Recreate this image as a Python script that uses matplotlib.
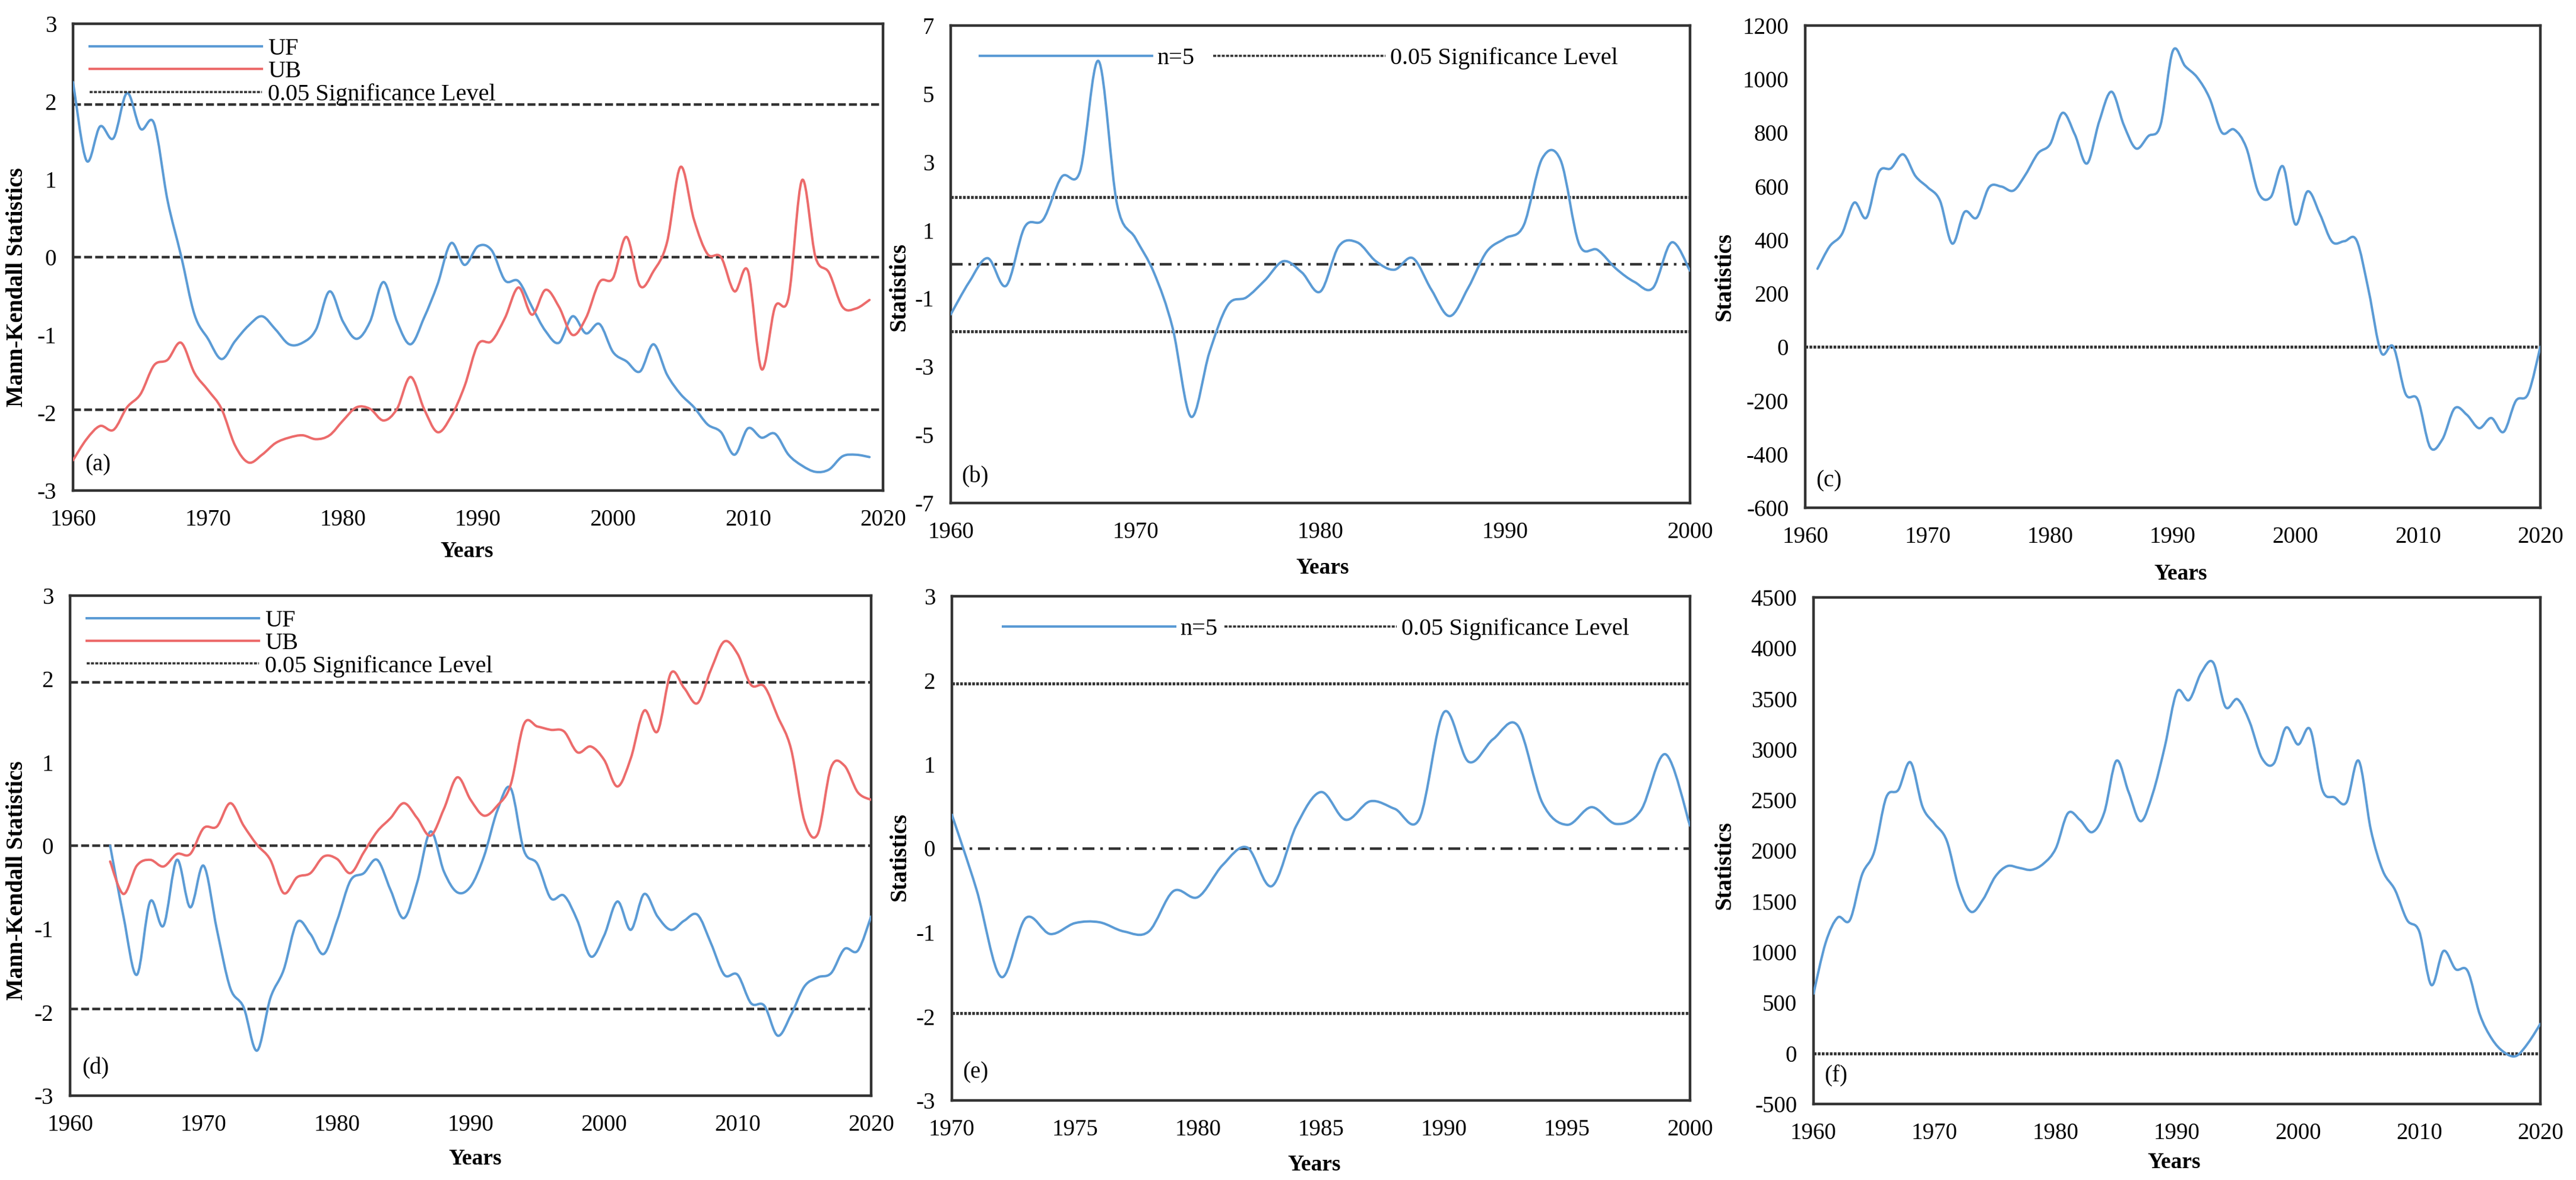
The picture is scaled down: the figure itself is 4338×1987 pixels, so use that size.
import numpy as np
import matplotlib

matplotlib.use("Agg")
import matplotlib.pyplot as plt
from matplotlib.path import Path
from matplotlib.patches import PathPatch
from matplotlib.lines import Line2D

plt.rcParams["font.family"] = ["Liberation Serif", "DejaVu Serif"]
plt.rcParams["axes.unicode_minus"] = False

# ---- data ----
years_a = list(range(1960, 2020))
uf_a = [2.25, 1.24, 1.68, 1.53, 2.11, 1.65, 1.72, 0.73, 0.02, -0.74,
        -1.05, -1.31, -1.08, -0.88, -0.76, -0.93, -1.12, -1.10, -0.93, -0.44,
        -0.83, -1.05, -0.83, -0.32, -0.83, -1.12, -0.78, -0.35, 0.18, -0.10,
        0.14, 0.09, -0.30, -0.31, -0.64, -0.95, -1.10, -0.76, -0.98, -0.86,
        -1.22, -1.34, -1.47, -1.12, -1.51, -1.76, -1.93, -2.15, -2.25, -2.54,
        -2.20, -2.32, -2.27, -2.54, -2.68, -2.76, -2.73, -2.56, -2.54, -2.57]
ub_a = [-2.61, -2.34, -2.17, -2.22, -1.93, -1.76, -1.39, -1.32, -1.10, -1.49,
        -1.71, -1.95, -2.42, -2.64, -2.54, -2.39, -2.32, -2.29, -2.34, -2.29,
        -2.10, -1.93, -1.95, -2.10, -1.95, -1.54, -1.95, -2.25, -2.05, -1.66,
        -1.12, -1.08, -0.78, -0.39, -0.74, -0.42, -0.64, -1.00, -0.78, -0.32,
        -0.27, 0.26, -0.37, -0.18, 0.19, 1.16, 0.48, 0.04, 0.00, -0.44,
        -0.18, -1.44, -0.64, -0.52, 0.99, 0.00, -0.20, -0.64, -0.66, -0.55]

years_b = list(range(1960, 2001))
stat_b = [-1.47, -0.52, 0.18, -0.63, 1.09, 1.31, 2.56, 2.73, 5.96, 1.76,
          0.76, -0.25, -1.85, -4.47, -2.58, -1.19, -0.97, -0.47, 0.09, -0.24,
          -0.80, 0.53, 0.64, 0.09, -0.16, 0.18, -0.74, -1.52, -0.69, 0.37,
          0.76, 1.14, 3.10, 3.05, 0.59, 0.42, -0.13, -0.52, -0.69, 0.64,
          -0.19]

years_c = list(range(1961, 2021))
stat_c = [292, 376, 422, 539, 483, 652, 667, 719, 638,
          596, 546, 386, 504, 483, 596, 599, 584, 645, 723,
          758, 874, 794, 685, 843, 953, 829, 741, 787, 829,
          1105, 1049, 1006, 929, 801, 812, 744, 575, 560, 674,
          458, 581, 497, 393, 395, 398, 207, -20, 1, -175,
          -197, -374, -345, -229, -253, -303, -265, -317, -201, -175,
          1]

years_d = list(range(1963, 2021))
uf_d = [0.00, -0.85, -1.55, -0.67, -0.96, -0.17, -0.74,
        -0.24, -1.01, -1.71, -1.94, -2.46, -1.83, -1.49, -0.92, -1.06, -1.30,
        -0.90, -0.42, -0.33, -0.17, -0.53, -0.87, -0.44, 0.17, -0.31, -0.56,
        -0.49, -0.13, 0.42, 0.69, -0.06, -0.22, -0.63, -0.60, -0.90, -1.33,
        -1.08, -0.67, -1.01, -0.58, -0.85, -1.01, -0.90, -0.83, -1.17, -1.55,
        -1.55, -1.89, -1.92, -2.28, -2.03, -1.69, -1.58, -1.53, -1.24, -1.26,
        -0.85]
ub_d = [-0.19, -0.58, -0.24, -0.17, -0.25, -0.10, -0.10,
        0.21, 0.23, 0.51, 0.24, 0.01, -0.17, -0.57, -0.38, -0.33, -0.13,
        -0.16, -0.33, -0.08, 0.17, 0.33, 0.51, 0.33, 0.12, 0.44, 0.82,
        0.55, 0.36, 0.48, 0.73, 1.46, 1.43, 1.39, 1.37, 1.12, 1.19,
        1.03, 0.71, 1.05, 1.62, 1.37, 2.07, 1.89, 1.71, 2.11, 2.45,
        2.30, 1.93, 1.91, 1.55, 1.16, 0.30, 0.14, 0.94, 0.96, 0.64,
        0.55]

years_e = list(range(1970, 2001))
stat_e = [0.40, -0.49, -1.53, -0.83, -1.02, -0.89, -0.88, -0.99, -0.99, -0.51,
          -0.58, -0.20, 0.01, -0.45, 0.27, 0.67, 0.34, 0.56, 0.47, 0.35,
          1.62, 1.03, 1.30, 1.46, 0.54, 0.28, 0.49, 0.29, 0.45, 1.12,
          0.27]

years_f = list(range(1960, 2021))
stat_f = [589, 1092, 1341, 1315, 1762, 1986, 2526, 2601, 2873, 2433,
          2265, 2098, 1632, 1397, 1520, 1744, 1848, 1830, 1811, 1874,
          2023, 2370, 2303, 2183, 2377, 2888, 2582, 2291, 2563, 3029,
          3569, 3487, 3756, 3856, 3420, 3495, 3271, 2917, 2861, 3215,
          3048, 3197, 2601, 2526, 2478, 2888, 2210, 1800, 1613, 1315,
          1203, 674, 1010, 831, 812, 384, 142, 11, -26, 104,
          291]

sig_level = 1.96

BLUE = "#5B9BD5"
RED = "#EC6B6B"
GREY = "#333333"
FS = 28


def smooth_line(ax, x, y, color, lw=2.9):
    # Excel-style smoothed line: cubic Bezier through every point
    x = np.asarray(x, float)
    y = np.asarray(y, float)
    xp = np.concatenate([[x[0]], x, [x[-1]]])
    yp = np.concatenate([[y[0]], y, [y[-1]]])
    verts = [(x[0], y[0])]
    codes = [Path.MOVETO]
    for i in range(len(x) - 1):
        c1 = (x[i] + (xp[i + 2] - xp[i]) / 6, y[i] + (yp[i + 2] - yp[i]) / 6)
        c2 = (x[i + 1] - (xp[i + 3] - xp[i + 1]) / 6,
              y[i + 1] - (yp[i + 3] - yp[i + 1]) / 6)
        verts += [c1, c2, (x[i + 1], y[i + 1])]
        codes += [Path.CURVE4] * 3
    ax.add_patch(PathPatch(Path(verts, codes), fill=False, edgecolor=color,
                           lw=lw, capstyle="round", joinstyle="round", zorder=3))


W, H = 4338, 1987
fig = plt.figure(figsize=(W / 100, H / 100), dpi=100)


def make_axes(l, r, t, b):
    ax = fig.add_axes([l / W, 1 - b / H, (r - l) / W, (b - t) / H])
    for s in ax.spines.values():
        s.set_color(GREY)
        s.set_linewidth(3.2)
    ax.tick_params(length=0, labelsize=FS)
    ax.tick_params(axis="x", pad=22)
    ax.tick_params(axis="y", pad=20)
    return ax


def finish(ax, xlim, xticks, ylim, yticks, ylabel, ylab_xy, xlab_xy, tag):
    ax.set_xlim(*xlim)
    ax.set_xticks(xticks)
    ax.set_ylim(*ylim)
    ax.set_yticks(yticks)
    ax.set_ylabel(ylabel, fontsize=FS, fontweight="bold")
    ax.yaxis.set_label_coords(*ylab_xy)
    ax.set_xlabel("Years", fontsize=27, fontweight="bold")
    ax.xaxis.set_label_coords(*xlab_xy)
    ax.text(0.015, 0.055, tag, transform=ax.transAxes, fontsize=FS,
            va="center", ha="left")


dashed = dict(color=GREY, lw=3.2, ls=(0, (3.0, 1.2)), zorder=2)
dotted = dict(color=GREY, lw=3.6, ls=(0, (0.9, 0.45)), zorder=2)
dashdot = dict(color=GREY, lw=3.2, ls=(0, (4.5, 2.2, 1.0, 2.2)), zorder=2)
leg_sig = Line2D([], [], color=GREY, lw=2.6, ls=(0, (1.4, 0.6)))

# ---- (a) ----
ax = make_axes(123, 1487, 40, 826)
for v in (sig_level, 0, -sig_level):
    ax.axhline(v, **dashed)
smooth_line(ax, years_a, uf_a, BLUE)
smooth_line(ax, years_a, ub_a, RED)
finish(ax, (1960, 2020), range(1960, 2021, 10), (-3, 3), range(-3, 4),
       "Mann-Kendall Statistics", (-0.056, 0.436), (0.486, -0.108), "(a)")
ax.legend([Line2D([], [], color=BLUE, lw=2.9), Line2D([], [], color=RED, lw=2.9), leg_sig],
          ["UF", "UB", "0.05 Significance Level"], loc="upper left",
          bbox_to_anchor=(0.0, 1.005), frameon=False, fontsize=29,
          handlelength=7.2, handletextpad=0.25, labelspacing=0.02, borderaxespad=0.3)

# ---- (b) ----
ax = make_axes(1601, 2846, 43, 847)
ax.axhline(sig_level, **dotted)
ax.axhline(-sig_level, **dotted)
ax.axhline(0, **dashdot)
smooth_line(ax, years_b, stat_b, BLUE)
finish(ax, (1960, 2000), range(1960, 2001, 10), (-7, 7), range(-7, 8, 2),
       "Statistics", (-0.055, 0.453), (0.503, -0.114), "(b)")
ax.legend([Line2D([], [], color=BLUE, lw=2.9), leg_sig],
          ["n=5", "0.05 Significance Level"], loc="upper left", ncol=2,
          bbox_to_anchor=(0.01, 1.0), frameon=False, fontsize=29,
          handlelength=7.2, handletextpad=0.2, columnspacing=0.8, borderaxespad=0.5)

# ---- (c) ----
ax = make_axes(3040, 4278, 43, 855)
ax.axhline(0, **dotted)
smooth_line(ax, years_c, stat_c, BLUE)
finish(ax, (1960, 2020), range(1960, 2021, 10), (-600, 1200), range(-600, 1201, 200),
       "Statistics", (-0.095, 0.48), (0.511, -0.116), "(c)")

# ---- (d) ----
ax = make_axes(118, 1467, 1003, 1845)
for v in (sig_level, 0, -sig_level):
    ax.axhline(v, **dashed)
smooth_line(ax, years_d, uf_d, BLUE)
smooth_line(ax, years_d, ub_d, RED)
finish(ax, (1960, 2020), range(1960, 2021, 10), (-3, 3), range(-3, 4),
       "Mann-Kendall Statistics", (-0.053, 0.43), (0.506, -0.106), "(d)")
ax.legend([Line2D([], [], color=BLUE, lw=2.9), Line2D([], [], color=RED, lw=2.9), leg_sig],
          ["UF", "UB", "0.05 Significance Level"], loc="upper left",
          bbox_to_anchor=(0.0, 1.005), frameon=False, fontsize=29,
          handlelength=7.2, handletextpad=0.25, labelspacing=0.02, borderaxespad=0.3)

# ---- (e) ----
ax = make_axes(1603, 2846, 1004, 1853)
ax.axhline(sig_level, **dotted)
ax.axhline(-sig_level, **dotted)
ax.axhline(0, **dashdot)
smooth_line(ax, years_e, stat_e, BLUE)
finish(ax, (1970, 2000), range(1970, 2001, 5), (-3, 3), range(-3, 4),
       "Statistics", (-0.056, 0.483), (0.491, -0.107), "(e)")
ax.legend([Line2D([], [], color=BLUE, lw=2.9), leg_sig],
          ["n=5", "0.05 Significance Level"], loc="upper left", ncol=2,
          bbox_to_anchor=(0.04, 1.0), frameon=False, fontsize=29,
          handlelength=7.2, handletextpad=0.2, columnspacing=0.3, borderaxespad=0.5)

# ---- (f) ----
ax = make_axes(3054, 4278, 1006, 1859)
ax.axhline(0, **dotted)
smooth_line(ax, years_f, stat_f, BLUE)
finish(ax, (1960, 2020), range(1960, 2021, 10), (-500, 4500), range(-500, 4501, 500),
       "Statistics", (-0.107, 0.472), (0.496, -0.095), "(f)")

fig.savefig("out.png", dpi=100, facecolor="white")
